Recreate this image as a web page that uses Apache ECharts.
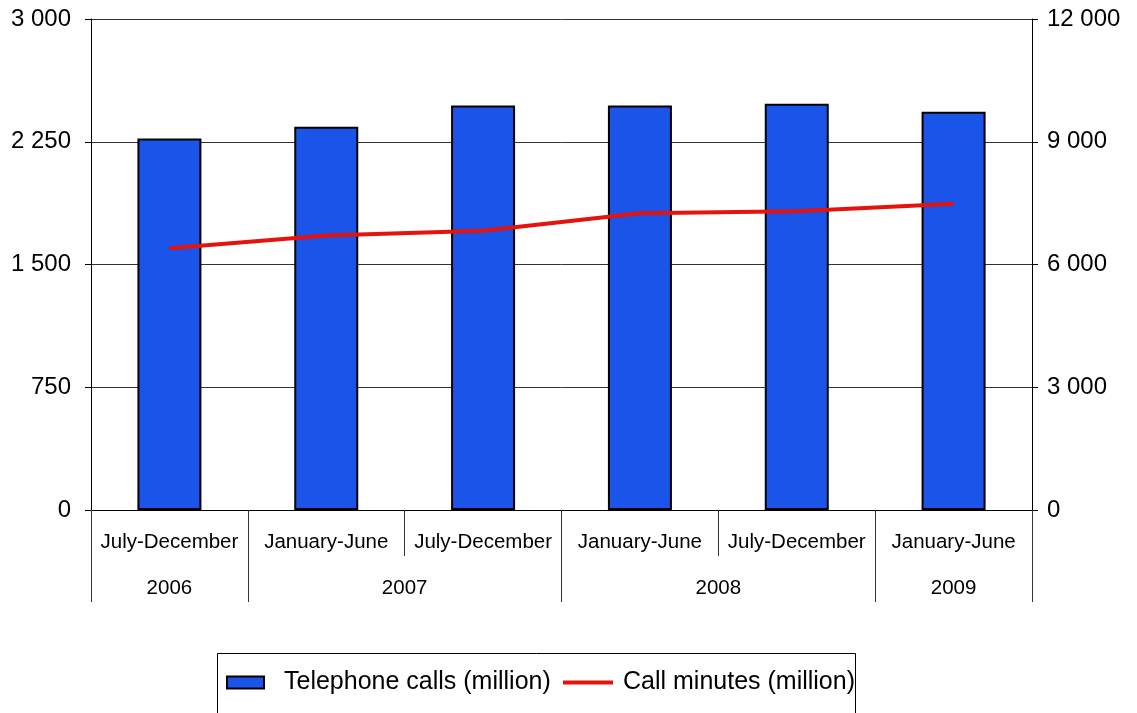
<!DOCTYPE html>
<html>
<head>
<meta charset="utf-8">
<script src="https://cdn.jsdelivr.net/npm/echarts@6/dist/echarts.min.js"></script>
<style>
  html, body { margin: 0; padding: 0; background: #fff; }
  #chart { width: 1137px; height: 713px; }
</style>
</head>
<body>
<div id="chart"></div>
<script>
// Half-year periods and their years
const periods = ['July-December', 'January-June', 'July-December', 'January-June', 'July-December', 'January-June'];
const years = ['2006', '2007', '2008', '2009'];
// Year group boundaries and centres, in period units
const yearBounds = [0, 1, 3, 5, 6];
const yearCentres = [0.5, 2, 4, 5.5];

// Series values (million)
const telephoneCalls = [2270, 2342, 2472, 2472, 2482, 2433];
const callMinutes = [6400, 6710, 6825, 7255, 7300, 7485];

// Tick values of both value axes
const leftTicks = { min: 0, max: 3000, interval: 750 };
const rightTicks = { min: 0, max: 12000, interval: 3000 };

const FONT = "'Liberation Sans', Arial, sans-serif";
const fmtThousands = v => String(v).replace(/\B(?=(\d{3})+(?!\d))/g, ' ');

const chart = echarts.init(document.getElementById('chart'), null, { renderer: 'canvas' });

chart.setOption({
  animation: false,
  backgroundColor: '#fff',
  textStyle: { fontFamily: FONT },
  grid: { left: 91, right: 105, top: 19, bottom: 203, containLabel: false },
  xAxis: [
    {
      type: 'category',
      position: 'bottom',
      data: periods,
      boundaryGap: true,
      axisLine: { show: true, lineStyle: { color: '#000', width: 1 } },
      axisTick: { show: true, interval: 0, length: 46, lineStyle: { color: '#333', width: 1 } },
      axisLabel: { interval: 0, margin: 22, color: '#000', fontSize: 20.5, fontFamily: FONT },
      splitLine: { show: false }
    },
    {
      type: 'value',
      position: 'bottom',
      min: 0,
      max: periods.length,
      axisLine: { show: false },
      axisTick: { show: true, customValues: yearBounds, length: 92, lineStyle: { color: '#333', width: 1 } },
      axisLabel: {
        customValues: yearCentres,
        margin: 68,
        color: '#000',
        fontSize: 20.5,
        fontFamily: FONT,
        formatter: v => years[yearCentres.indexOf(v)] || ''
      },
      splitLine: { show: false }
    }
  ],
  yAxis: [
    {
      type: 'value',
      position: 'left',
      min: leftTicks.min,
      max: leftTicks.max,
      interval: leftTicks.interval,
      axisLine: { show: true, lineStyle: { color: '#000', width: 1 } },
      axisTick: { show: true, length: 6, lineStyle: { color: '#000' } },
      axisLabel: { margin: 20, color: '#000', fontSize: 24, fontFamily: FONT, formatter: fmtThousands },
      splitLine: { show: true, lineStyle: { color: '#333', width: 1 } }
    },
    {
      type: 'value',
      position: 'right',
      min: rightTicks.min,
      max: rightTicks.max,
      interval: rightTicks.interval,
      axisLine: { show: true, lineStyle: { color: '#000', width: 1 } },
      axisTick: { show: true, length: 6, lineStyle: { color: '#000' } },
      axisLabel: { margin: 15, color: '#000', fontSize: 24, fontFamily: FONT, formatter: fmtThousands },
      splitLine: { show: false }
    }
  ],
  legend: [
    {
      data: [{ name: 'Telephone calls (million)', icon: 'rect' }],
      left: 226,
      top: 670,
      padding: 0,
      itemWidth: 37,
      itemHeight: 12,
      textStyle: { fontSize: 25, color: '#000', fontFamily: FONT, padding: [0, 0, 0, 15] }
    },
    {
      data: [{ name: 'Call minutes (million)', icon: 'rect' }],
      left: 563,
      top: 670,
      padding: 0,
      itemWidth: 50,
      itemHeight: 4,
      itemStyle: { borderWidth: 0 },
      textStyle: { fontSize: 25, color: '#000', fontFamily: FONT, padding: [0, 0, 0, 5] }
    }
  ],
  graphic: [
    {
      type: 'rect',
      shape: { x: 217.5, y: 653.5, width: 638, height: 70 },
      style: { fill: 'none', stroke: '#000', lineWidth: 1 },
      silent: true
    }
  ],
  series: [
    {
      name: 'Telephone calls (million)',
      type: 'bar',
      xAxisIndex: 0,
      yAxisIndex: 0,
      data: telephoneCalls,
      barWidth: 64,
      itemStyle: { color: '#1B54E8', borderColor: '#000', borderWidth: 2 }
    },
    {
      name: 'Call minutes (million)',
      type: 'line',
      xAxisIndex: 0,
      yAxisIndex: 1,
      data: callMinutes,
      symbol: 'none',
      lineStyle: { color: '#E5130B', width: 4 },
      itemStyle: { color: '#E5130B' }
    }
  ]
});
</script>
</body>
</html>
